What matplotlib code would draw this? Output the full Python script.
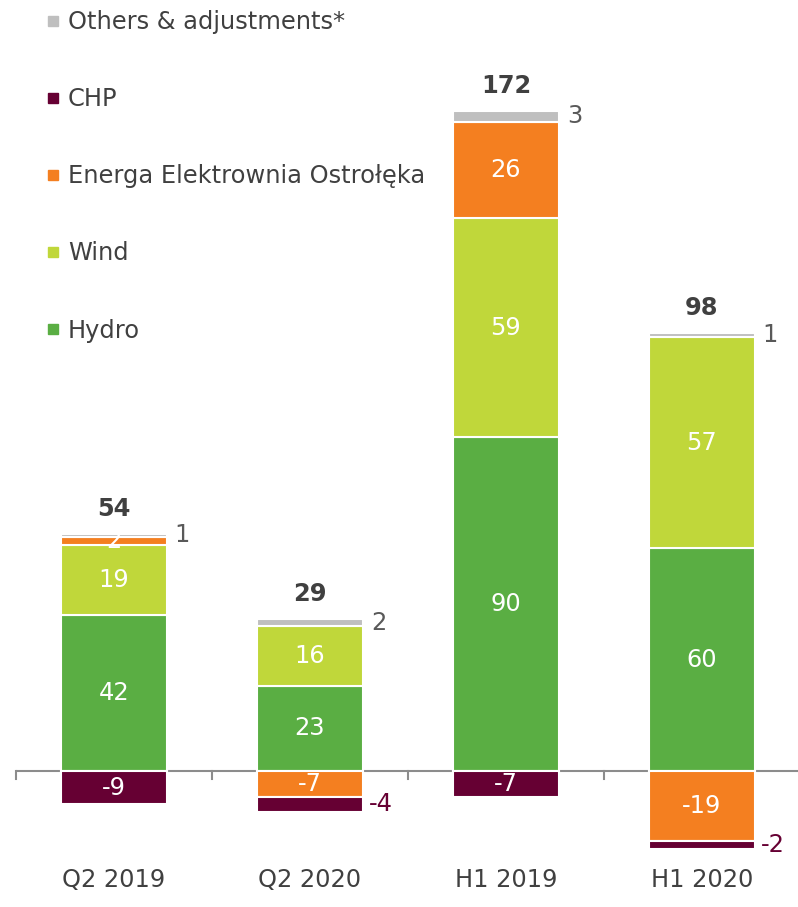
import matplotlib.pyplot as plt
from matplotlib.lines import Line2D
from matplotlib.transforms import blended_transform_factory

plt.rcParams['font.family'] = ['DejaVu Sans']

periods = ['Q2 2019', 'Q2 2020', 'H1 2019', 'H1 2020']
hydro = [42, 23, 90, 60]
wind = [19, 16, 59, 57]
energa = [2, -7, 26, -19]
chp = [-9, -4, -7, -2]
others = [1, 2, 3, 1]
totals = [54, 29, 172, 98]

series = [('Hydro', hydro, '#5AAE43'),
          ('Wind', wind, '#C0D73A'),
          ('Energa Elektrownia Ostrołęka', energa, '#F47F20'),
          ('CHP', chp, '#660033'),
          ('Others & adjustments*', others, '#BFBFBF')]

text_col = '#404040'
fs = 17.4

fig = plt.figure(figsize=(7.98, 9.07), dpi=100)
W, H = 798, 907
# zero line at y=771 px, 3.71 px per unit
ylo, yhi = -25, 195
ppu = 3.71
bottom_px = 771 + (-ylo) * ppu
top_px = 771 - yhi * ppu
ax = fig.add_axes([16 / W, 1 - bottom_px / H, 784 / W, (bottom_px - top_px) / H])
ax.set_xlim(-0.5, 3.5)
ax.set_ylim(ylo, yhi)
ax.axis('off')

width = 0.54
pos_base = [0] * 4
neg_base = [0] * 4
for name, vals, col in series:
    for i, v in enumerate(vals):
        if v >= 0:
            b = pos_base[i]
            pos_base[i] += v
        else:
            b = neg_base[i]
            neg_base[i] += v
        ax.bar(i, v, width, bottom=b, color=col, edgecolor='white', linewidth=1.5)
        mid = b + v / 2
        if name == 'Others & adjustments*':
            ax.text(i + width / 2 + 0.04, mid, str(v), color='#595959', fontsize=fs,
                    ha='left', va='center')
        elif name == 'CHP' and abs(v) < 5:
            ax.text(i + width / 2 + 0.03, mid, str(v), color='#660033', fontsize=fs,
                    ha='left', va='center')
        else:
            ax.text(i, mid, str(v), color='white', fontsize=fs, ha='center', va='center')

for i, t in enumerate(totals):
    ax.annotate(str(t), (i, pos_base[i]), xytext=(0, 18), textcoords='offset points',
                ha='center', va='center', fontsize=fs, fontweight='bold', color=text_col)

# zero axis line with ticks at category boundaries
ax.axhline(0, color='#8C8C8C', linewidth=1.5, zorder=0.5)
for b in [-0.5, 0.5, 1.5, 2.5, 3.5]:
    ax.plot([b, b], [0, -8 / ppu], color='#8C8C8C', linewidth=1.5, clip_on=False)

trans = blended_transform_factory(ax.transData, fig.transFigure)
for i, p in enumerate(periods):
    ax.text(i, 1 - 880 / H, p, transform=trans, ha='center', va='center',
            fontsize=fs, color=text_col)

handles = [Line2D([], [], marker='s', linestyle='none', markersize=7.5,
                  markerfacecolor=col, markeredgecolor=col)
           for name, vals, col in reversed(series)]
labels = [name for name, vals, col in reversed(series)]
leg = fig.legend(handles, labels, loc='upper left', bbox_to_anchor=(46 / W, 1 - 10 / H),
                 frameon=False, fontsize=fs, labelspacing=2.2, handlelength=0.6,
                 handletextpad=0.3, borderaxespad=0, borderpad=0)
for t in leg.get_texts():
    t.set_color(text_col)

fig.savefig('out.png', dpi=100)
